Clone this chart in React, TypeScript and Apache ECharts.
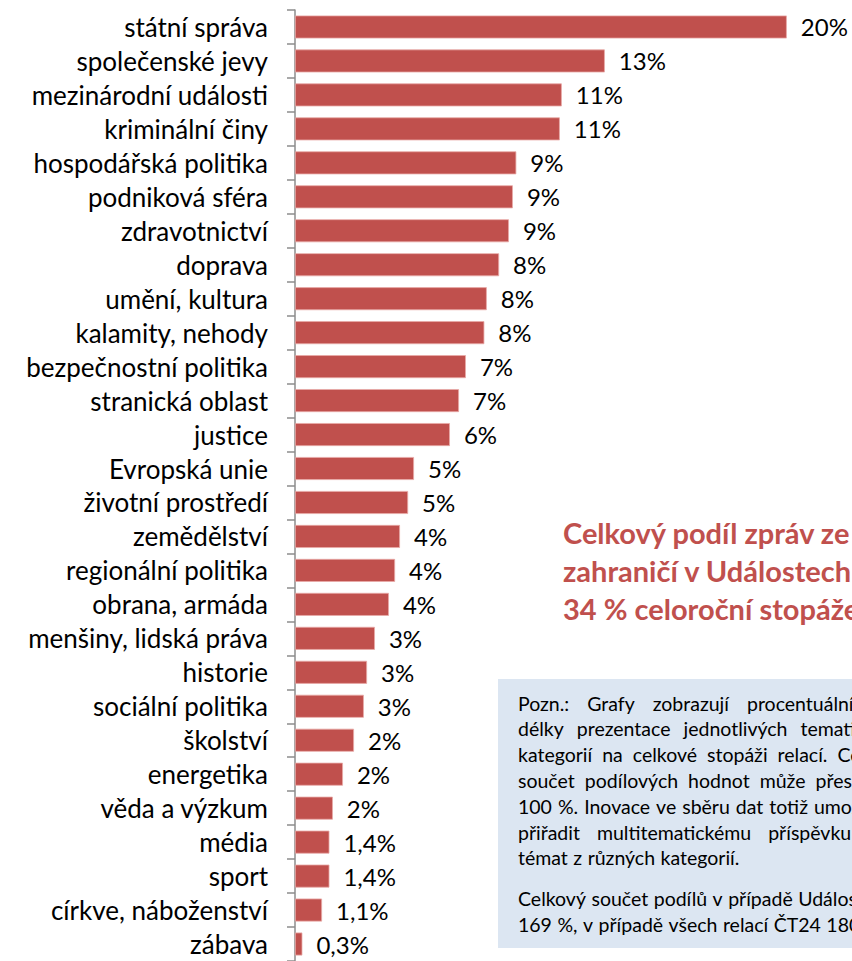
import React, { useEffect, useRef } from "react";
import * as echarts from "echarts";

const categories = [
  "státní správa", "společenské jevy", "mezinárodní události", "kriminální činy",
  "hospodářská politika", "podniková sféra", "zdravotnictví", "doprava",
  "umění, kultura", "kalamity, nehody", "bezpečnostní politika", "stranická oblast",
  "justice", "Evropská unie", "životní prostředí", "zemědělství",
  "regionální politika", "obrana, armáda", "menšiny, lidská práva", "historie",
  "sociální politika", "školství", "energetika", "věda a výzkum",
  "média", "sport", "církve, náboženství", "zábava",
];
const values = [
  20.0, 12.6, 10.85, 10.77, 9.0, 8.86, 8.7, 8.3, 7.8, 7.7, 6.95, 6.67, 6.3, 4.84,
  4.6, 4.27, 4.07, 3.82, 3.25, 2.93, 2.8, 2.4, 1.95, 1.54, 1.4, 1.4, 1.1, 0.3,
];
const valueLabels = [
  "20%", "13%", "11%", "11%", "9%", "9%", "9%", "8%", "8%", "8%", "7%", "7%", "6%", "5%",
  "5%", "4%", "4%", "4%", "3%", "3%", "3%", "2%", "2%", "2%", "1,4%", "1,4%", "1,1%", "0,3%",
];
const titleLines = [
  "Celkový podíl zpráv ze",
  "zahraničí v Událostech",
  "34 % celoroční stopáže",
];
const noteLines = [
  "Pozn.: Grafy zobrazují procentuální",
  "délky prezentace jednotlivých tematických",
  "kategorií na celkové stopáži relací. Celkový",
  "součet podílových hodnot může přesahovat",
  "100 %. Inovace ve sběru dat totiž umožňuje",
  "přiřadit multitematickému příspěvku",
  "témat z různých kategorií.",
  "",
  "Celkový součet podílů v případě Událostí",
  "169 %, v případě všech relací ČT24 180 %.",
];

export default function App() {
  const ref = useRef<HTMLDivElement>(null);
  useEffect(() => {
    if (!ref.current) return;
    const chart = echarts.init(ref.current, null, { renderer: "svg" });
    const font = "Lato, 'Open Sans', sans-serif";
    const noteFont = `19.5px ${font}`;
    // word gaps (justified text look)
    const gaps = [18, 13, 10, 10, 6, 17, 5.5, 0, 5.5, 5.5];
    const cv = document.createElement("canvas");
    const ctx = cv.getContext("2d")!;
    ctx.font = noteFont;
    const noteGraphics: any[] = [];
    let ny = 703;
    noteLines.forEach((t, i) => {
      if (t !== "") {
        let x = 518;
        t.split(" ").forEach((w) => {
          noteGraphics.push({
            type: "text",
            x,
            y: ny,
            z: 10,
            style: { text: w, font: noteFont, fill: "#000", verticalAlign: "middle" },
          });
          x += ctx.measureText(w).width + gaps[i];
        });
      }
      ny += i === 6 ? 41 : i === 7 ? 0 : 25.8;
    });
    chart.setOption({
      animation: false,
      textStyle: { fontFamily: font },
      grid: { left: 295, right: 16, top: 10, bottom: 0, containLabel: false },
      xAxis: {
        type: "value",
        min: 0,
        max: 22,
        show: false,
      },
      yAxis: {
        type: "category",
        data: categories,
        inverse: true,
        axisLine: { show: true, lineStyle: { color: "#8c8c8c", width: 1.5 } },
        axisTick: { show: true, length: 8, lineStyle: { color: "#8c8c8c", width: 1.5 } },
        axisLabel: {
          color: "#000",
          fontSize: 26,
          margin: 27,
          fontFamily: font,
          interval: 0,
          hideOverlap: false,
        },
        splitLine: { show: false },
      },
      series: [
        {
          type: "bar",
          data: values,
          barWidth: 23,
          itemStyle: { color: "#C0504D", borderColor: "#E8A9A7", borderWidth: 0.8 },
          label: {
            show: true,
            position: "right",
            distance: 14,
            fontSize: 24,
            color: "#000",
            fontFamily: font,
            formatter: (p: any) => valueLabels[p.dataIndex],
          },
        },
      ],
      graphic: [
        ...titleLines.map((t, i) => ({
          type: "text",
          x: 563,
          y: 532 + i * 38,
          style: {
            text: t,
            font: `bold 29px ${font}`,
            fill: "#C0504D",
            verticalAlign: "middle",
          },
        })),
        {
          type: "rect",
          shape: { x: 498, y: 679, width: 360, height: 269 },
          style: { fill: "#DCE6F2" },
          z: 0,
        },
        ...noteGraphics,
      ],
    });
    return () => chart.dispose();
  }, []);
  return (
    <div
      ref={ref}
      style={{ position: "fixed", left: 0, top: 0, width: 852, height: 961, background: "#fff" }}
    />
  );
}
